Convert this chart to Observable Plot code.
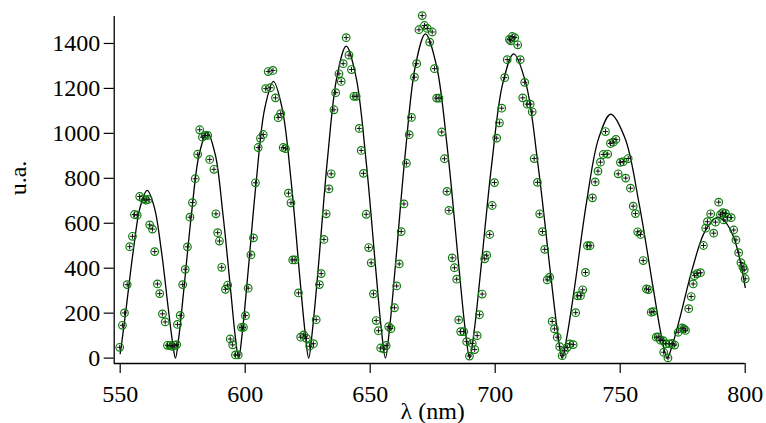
<!DOCTYPE html>
<html>
<head>
<meta charset="utf-8">
<script src="https://cdn.jsdelivr.net/npm/d3@7"></script>
<script src="https://cdn.jsdelivr.net/npm/@observablehq/plot@0.6"></script>
<style>
  html, body { margin: 0; padding: 0; background: #fff; }
  #chart { width: 766px; height: 423px; overflow: hidden; }
</style>
</head>
<body>
<div id="chart"></div>
<script>
// ---- data ----
const xTicks = [550, 600, 650, 700, 750, 800];
const yTicks = [0, 200, 400, 600, 800, 1000, 1200, 1400];
const xLabel = "λ (nm)";
const yLabel = "u.a.";
const xDomain = [547.6, 800];
const yDomain = [-24, 1520];

// fitted curve (black line)
const lineX = [550,550.6,552.3,555.2,558.0,560.8,563.6,566.5,569.3,571.0,572.1,
  573.4,575.3,578.5,581.6,584.8,588.0,591.1,594.3,596.1,597.4,
  598.8,600.9,604.4,607.8,611.3,614.8,618.4,621.9,624.0,625.4,
  626.9,629.2,632.9,636.7,640.4,644.3,648.3,652.2,654.5,656.1,
  657.7,660.1,664.1,668.1,672.1,676.5,681.0,685.4,688.0,689.8,
  691.6,694.2,698.6,703.0,707.4,712.3,717.1,722.0,724.9,726.8,
  728.7,731.7,736.5,741.4,746.2,751.9,757.5,763.2,766.5,768.8,
  770.8,773.9,778.9,784.0,789.0,792.1,795.4,798.1,800];
const lineY = [20,66,214,475,673,746,673,475,214,66,0,
  89,288,640,907,1005,907,640,288,89,0,
  110,353,784,1110,1231,1110,784,353,110,0,
  124,398,884,1252,1388,1252,884,398,124,0,
  128,414,919,1302,1443,1302,919,414,128,0,
  121,389,862,1221,1354,1221,862,389,121,0,
  97,311,691,979,1085,979,691,311,97,0,
  56,180,399,566,627,605,538,427,315];

// measured points (green circles with plus)
const ptX = [549.8,550.9,551.7,552.8,553.8,554.9,555.7,556.8,557.8,559.2,560.3,561.2,561.8,562.9,563.8,564.9,565.8,566.9,568.0,568.9,569.9,570.8,571.8,572.6,
  572.9,574.0,575.0,576.0,576.9,577.9,578.9,580.0,581.0,581.8,582.9,584.0,585.0,585.8,587.5,588.3,589.0,589.7,590.6,592.1,593.0,594.0,595.0,596.1,597.2,598.5,599.3,
  600.1,601.2,602.3,603.3,604.1,605.2,606.1,607.2,608.2,609.2,610.1,611.1,612.1,613.2,614.2,615.2,616.1,617.3,618.3,619.0,619.9,621.3,622.2,623.4,624.5,625.8,627.3,
  628.4,629.7,630.4,631.5,632.4,633.5,634.4,635.5,636.2,637.5,638.4,639.2,640.4,641.5,642.5,643.5,644.4,645.6,646.4,647.3,648.4,649.4,650.4,651.3,652.4,653.3,654.2,655.5,656.4,
  657.4,658.3,659.7,660.6,661.6,662.4,663.5,664.5,665.6,666.5,667.7,668.6,669.5,670.8,671.7,672.8,673.8,674.8,675.7,676.6,677.5,678.6,679.7,680.7,681.5,682.8,683.7,684.6,685.4,
  686.2,687.4,688.6,689.7,690.8,691.8,692.8,693.7,694.8,695.8,696.6,697.8,698.8,699.7,700.6,701.7,702.6,703.8,704.8,705.7,706.2,706.8,707.8,709.0,710.0,711.0,711.8,712.8,714.0,714.8,715.6,
  716.9,717.8,718.9,719.8,720.8,721.8,722.8,723.7,724.8,725.8,726.8,727.7,728.8,729.8,731.2,732.2,733.0,734.1,735.0,736.1,736.9,737.9,738.9,740.0,741.1,742.1,743.2,744.1,745.0,746.1,747.2,748.3,
  749.2,750.1,751.2,752.2,753.2,754.1,755.2,756.1,757.0,758.1,759.2,760.5,761.3,762.4,763.2,764.4,765.2,766.1,767.2,767.4,768.2,769.1,769.8,770.8,771.8,773.2,774.8,775.5,776.1,
  777.4,778.4,779.2,779.7,780.8,782.1,783.3,784.2,784.9,786.2,787.4,788.1,789.4,790.1,791.0,791.4,792.1,792.8,794.4,795.4,796.3,797.4,798.3,799.1,799.6,800.0];
const ptY = [48,146,201,327,496,542,639,636,719,708,703,706,593,574,474,330,287,197,161,57,56,52,57,60,
  150,190,327,395,495,627,692,798,907,1016,983,991,991,884,840,642,558,521,404,306,325,85,59,14,14,137,137,
  189,311,459,535,780,937,978,995,1199,1275,1203,1280,1158,1070,1088,937,932,734,691,437,437,290,93,103,88,53,64,
  171,327,376,528,642,753,820,1105,1181,1265,1231,1310,1426,1348,1284,1165,1165,1022,924,822,640,492,424,286,167,122,45,41,56,
  140,131,224,321,419,563,686,867,994,1071,1250,1310,1461,1524,1480,1467,1406,1451,1288,1157,1157,1006,887,742,657,446,402,351,170,
  118,118,73,9,65,38,100,193,285,442,458,550,679,781,979,1047,1112,1248,1328,1418,1412,1431,1426,1394,1328,1158,1227,1130,1130,1096,888,
  782,642,563,484,348,360,163,130,93,51,11,33,48,63,60,202,277,278,304,381,500,500,713,784,832,872,906,1008,908,955,961,973,
  820,871,874,801,888,756,676,643,562,550,434,308,305,204,207,93,94,80,78,26,64,1,63,65,58,115,134,130,123,
  220,274,330,367,376,380,501,578,607,642,556,605,694,638,647,615,644,627,625,570,526,469,425,405,393,353];

const curve = lineX.map((x, i) => ({x, y: lineY[i]}));
const pts = ptX.map((x, i) => ({x, y: ptY[i]}));

const plusSymbol = {
  draw(context, size) {
    const r = Math.sqrt(size / Math.PI);
    context.moveTo(-r, 0); context.lineTo(r, 0);
    context.moveTo(0, -r); context.lineTo(0, r);
  }
};

const serif = "Liberation Serif";

const chart = Plot.plot({
  width: 766,
  height: 423,
  marginLeft: 113.7,
  marginRight: 21.3,
  marginTop: 16,
  marginBottom: 60,
  style: {fontFamily: serif, fontSize: "24px", color: "#000", background: "#fff", overflow: "visible"},
  x: {domain: xDomain},
  y: {domain: yDomain},
  marks: [
    Plot.ruleX([xDomain[0]], {stroke: "#000", strokeWidth: 1.3}),
    Plot.ruleY([yDomain[0]], {stroke: "#000", strokeWidth: 1.3}),
    Plot.axisY({ticks: yTicks, tickSize: 10, tickPadding: 4, label: null, tickFormat: d => String(d), strokeWidth: 1.2, fontSize: 24}),
    Plot.axisX({ticks: xTicks, tickSize: 10, tickPadding: 11, label: null, tickFormat: d => String(d), strokeWidth: 1.2, fontSize: 24}),
    Plot.line(curve, {x: "x", y: "y", curve: "catmull-rom", stroke: "#000", strokeWidth: 1.3}),
    Plot.dot(pts, {x: "x", y: "y", r: 3.8, stroke: "#0a7d0a", strokeWidth: 1.2, fill: "none"}),
    Plot.dot(pts, {x: "x", y: "y", r: 2.5, symbol: plusSymbol, stroke: "#111", strokeWidth: 1}),
    Plot.text([xLabel], {frameAnchor: "bottom", textAnchor: "middle", dy: 55, dx: 3, fontSize: 24}),
    Plot.text([yLabel], {frameAnchor: "left", textAnchor: "middle", rotate: -90, dx: -96, dy: -12, fontSize: 24})
  ]
});
d3.select(chart).attr("font-family", serif).style("font-family", serif);
d3.select(chart).selectAll("text").attr("font-family", serif).style("font-family", serif);
document.getElementById("chart").appendChild(chart);
</script>
</body>
</html>
